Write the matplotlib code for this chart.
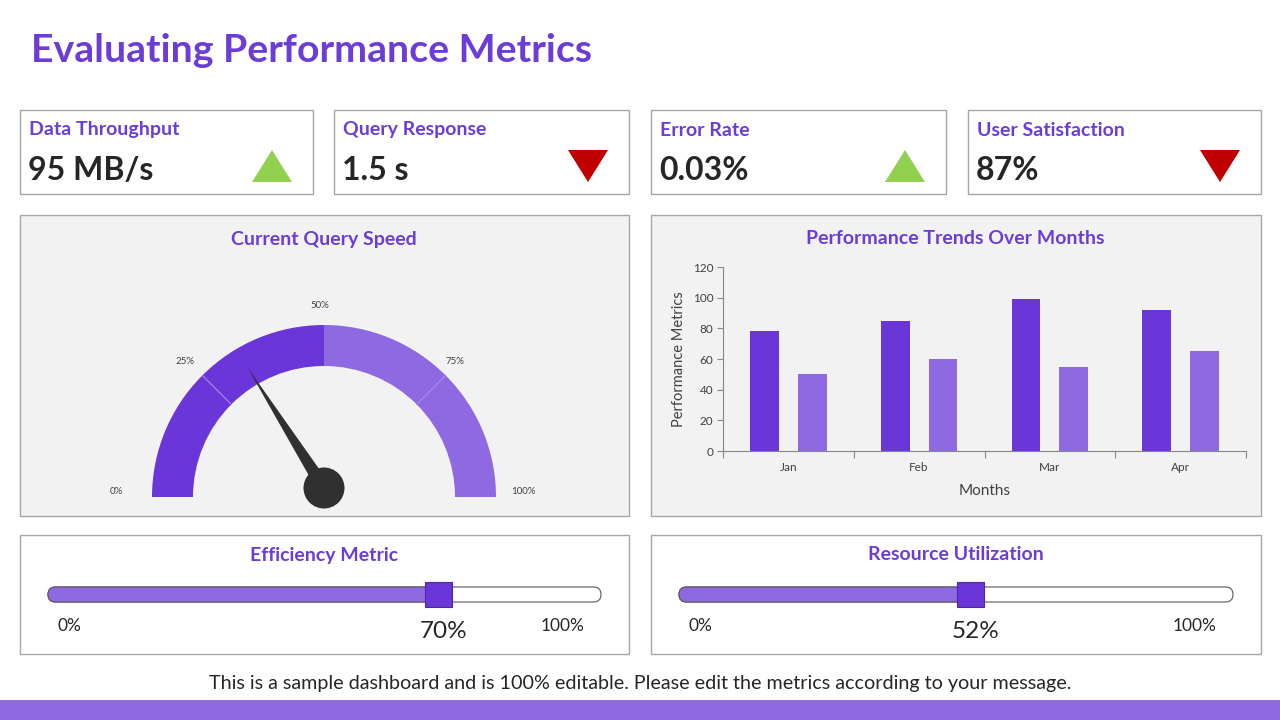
import numpy as np
import matplotlib
matplotlib.use("Agg")
import matplotlib.pyplot as plt
from matplotlib.patches import Rectangle, Wedge, Circle, Polygon, FancyBboxPatch

plt.rcParams['font.family'] = ['Lato', 'DejaVu Sans']

# ---------------- data ----------------
title = "Evaluating Performance Metrics"
kpi_labels = ["Data Throughput", "Query Response", "Error Rate", "User Satisfaction"]
kpi_values = ["95 MB/s", "1.5 s", "0.03%", "87%"]
kpi_trend = ["up", "down", "up", "down"]

gauge_title = "Current Query Speed"
gauge_value = 32
gauge_ticks = [0, 25, 50, 75, 100]

bar_title = "Performance Trends Over Months"
months = ["Jan", "Feb", "Mar", "Apr"]
series_a = [78, 85, 99, 92]
series_b = [50, 60, 55, 65]

slider_titles = ["Efficiency Metric", "Resource Utilization"]
slider_values = [70, 52]

footer = "This is a sample dashboard and is 100% editable. Please edit the metrics according to your message."

# ---------------- style ----------------
PURPLE = "#6A35D9"
LIGHT = "#8F69E2"
TITLE_C = "#6B3CD8"
GREEN = "#92D050"
RED = "#C00000"
EDGE = "#A6A6A6"
DARK = "#262626"

fig = plt.figure(figsize=(12.8, 7.2), dpi=100)
fig.patch.set_facecolor("white")
ax = fig.add_axes([0, 0, 1, 1])
ax.set_xlim(0, 1280)
ax.set_ylim(0, 720)
ax.axis("off")

def Y(y):
    return 720 - y

def box(x0, y0, x1, y1, fc="white"):
    ax.add_patch(Rectangle((x0, Y(y1)), x1 - x0, y1 - y0, facecolor=fc,
                           edgecolor=EDGE, linewidth=1.0, zorder=1))

# title
ax.text(31, Y(50), title, fontsize=28.3, fontweight="bold", color=TITLE_C,
        ha="left", va="center")

# KPI cards
kpi_x = [(20, 313), (334, 629), (651, 946), (968, 1261)]
for (x0, x1), lab, val, tr in zip(kpi_x, kpi_labels, kpi_values, kpi_trend):
    box(x0, 110, x1, 194)
    ax.text(x0 + 9, Y(130), lab, fontsize=14, fontweight="bold", color=TITLE_C,
            ha="left", va="center", zorder=3)
    ax.text(x0 + 8, Y(170), val, fontsize=23, fontweight="bold", color=DARK, ha="left",
            va="center", zorder=3)
    cx = x1 - 41
    if tr == "up":
        pts = [(cx - 20, Y(182)), (cx + 20, Y(182)), (cx, Y(150))]
        col = GREEN
    else:
        pts = [(cx - 20, Y(150)), (cx + 20, Y(150)), (cx, Y(182))]
        col = RED
    ax.add_patch(Polygon(pts, closed=True, facecolor=col, edgecolor="none", zorder=3))

# Gauge panel
box(20, 215, 629, 516, fc="#F2F2F2")
ax.text(324, Y(240), gauge_title, fontsize=14, fontweight="bold", color=TITLE_C,
        ha="center", va="center", zorder=3)
gc = (324, Y(497))
R_out, R_in = 172, 131
ax.add_patch(Wedge(gc, R_out, 90, 180, width=R_out - R_in, facecolor=PURPLE,
                   edgecolor="none", zorder=2))
ax.add_patch(Wedge(gc, R_out, 0, 90, width=R_out - R_in, facecolor=LIGHT,
                   edgecolor="none", zorder=2))
for t in [25, 75]:
    a = np.deg2rad(180 - t * 1.8)
    ax.plot([gc[0] + R_in * np.cos(a), gc[0] + R_out * np.cos(a)],
            [gc[1] + R_in * np.sin(a), gc[1] + R_out * np.sin(a)],
            color="#A78CEB", lw=0.8, zorder=2.5)
label_pos = {0: (116, 492), 25: (185, 362), 50: (320, 306), 75: (455, 362), 100: (523, 492)}
for t in gauge_ticks:
    x, y = label_pos[t]
    ax.text(x, Y(y), f"{t}%", fontsize=7, color="#404040", ha="center", va="center", zorder=3)
# needle
pv = (324, Y(488))
a = np.deg2rad(180 - gauge_value * 1.8)
L = 143
tip = (pv[0] + L * np.cos(a), pv[1] + L * np.sin(a))
perp = (-np.sin(a), np.cos(a))
hw = 7
base1 = (pv[0] + hw * perp[0], pv[1] + hw * perp[1])
base2 = (pv[0] - hw * perp[0], pv[1] - hw * perp[1])
ax.add_patch(Polygon([tip, base1, base2], closed=True, facecolor="#303030",
                     edgecolor="none", zorder=4))
ax.add_patch(Circle(pv, 20.5, facecolor="#303030", edgecolor="none", zorder=4))

# Bar chart panel
box(651, 215, 1261, 516, fc="#F2F2F2")
ax.text(955, Y(238), bar_title, fontsize=14, fontweight="bold", color=TITLE_C,
        ha="center", va="center", zorder=3)
bx = fig.add_axes([723 / 1280, 1 - 451 / 720, (1246 - 723) / 1280, (451 - 267) / 720])
bx.set_facecolor("none")
xi = np.arange(len(months)) + 0.5
bx.bar(xi - 0.183, series_a, width=0.22, color=PURPLE, zorder=2)
bx.bar(xi + 0.183, series_b, width=0.22, color=LIGHT, zorder=2)
bx.set_xlim(0, len(months))
bx.set_ylim(0, 120)
bx.set_yticks(np.arange(0, 121, 20))
bx.set_xticks(np.arange(0, len(months) + 1))
bx.set_xticklabels([])
bx.set_xticks(xi, minor=True)
bx.set_xticklabels(months, minor=True)
bx.tick_params(axis="x", which="major", length=5, color="#868686", direction="out")
bx.tick_params(axis="x", which="minor", length=0, pad=8, labelsize=8.5, labelcolor="#404040")
bx.tick_params(axis="y", length=4, color="#868686", labelsize=8.5, labelcolor="#404040", pad=3)
for s in ["top", "right"]:
    bx.spines[s].set_visible(False)
for s in ["left", "bottom"]:
    bx.spines[s].set_color("#868686")
bx.set_xlabel("Months", fontsize=11, color="#404040", labelpad=8)
bx.set_ylabel("Performance Metrics", fontsize=10.5, color="#404040", labelpad=5)

# Slider panels
slider_boxes = [(20, 629, 48, 601), (651, 1261, 679, 1233)]
for (x0, x1, t0, t1), st, v in zip(slider_boxes, slider_titles, slider_values):
    box(x0, 535, x1, 654)
    cx = (x0 + x1) / 2
    ax.text(cx, Y(555), st, fontsize=14, fontweight="bold", color=TITLE_C,
            ha="center", va="center", zorder=3)
    h = 15
    yc = Y(594.5)
    ax.add_patch(FancyBboxPatch((t0, yc - h / 2), t1 - t0, h,
                                boxstyle=f"round,pad=0,rounding_size={h/2}",
                                facecolor="white", edgecolor="#595959", lw=0.8, zorder=2))
    pos = t0 + (t1 - t0) * v / 100
    ax.add_patch(FancyBboxPatch((t0, yc - h / 2), pos + 3 - t0, h,
                                boxstyle=f"round,pad=0,rounding_size={h/2}",
                                facecolor=LIGHT, edgecolor="#595959", lw=0.8, zorder=2.5))
    ax.add_patch(Rectangle((pos + 3 - 13.5, yc - 12.5), 27, 25, facecolor=PURPLE,
                           edgecolor="#4B2A9A", lw=0.8, zorder=3))
    ax.text(t0 + 21, Y(626), "0%", fontsize=12.5, color=DARK, ha="center", va="center")
    ax.text(pos + 8, Y(632), f"{v}%", fontsize=17.5, color=DARK, ha="center", va="center")
    ax.text(t1 - 38, Y(626), "100%", fontsize=12.5, color=DARK, ha="center", va="center")

# footer
ax.text(640, Y(683), footer, fontsize=14.2, color=DARK, ha="center", va="center")
ax.add_patch(Rectangle((0, 0), 1280, 20, facecolor=LIGHT, edgecolor="none", zorder=1))

fig.savefig("out.png", dpi=100)
